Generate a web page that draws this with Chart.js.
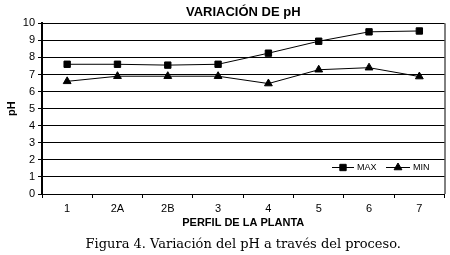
<!DOCTYPE html>
<html><head><meta charset="utf-8">
<script src="https://cdn.jsdelivr.net/npm/chart.js@4/dist/chart.umd.min.js"></script>
<style>html,body{margin:0;padding:0;background:#fff}#wrap{width:450px;height:255px;position:relative}</style>
</head><body><div id="wrap"><canvas id="c" width="450" height="255"></canvas></div>
<script>
const categories = ["1","2A","2B","3","4","5","6","7"];
const maxValues = [7.6, 7.6, 7.55, 7.6, 8.25, 8.95, 9.5, 9.55];
const minValues = [6.6, 6.9, 6.9, 6.9, 6.47, 7.28, 7.4, 6.88];
const seriesNames = ["MAX","MIN"];
const chartTitle = "VARIACIÓN DE pH";
const xTitle = "PERFIL DE LA PLANTA";
const yTitle = "pH";
const caption = "Figura 4. Variación del pH a través del proceso.";

const SANS = "'Liberation Sans', Arial, sans-serif";

const framePlugin = {
  id: 'frame',
  afterDatasetsDraw(chart) {
    const {ctx, chartArea: a} = chart;
    ctx.save();
    ctx.strokeStyle = '#000';
    ctx.lineWidth = 1;
    ctx.beginPath();
    ctx.moveTo(a.right + 0.5, a.top);
    ctx.lineTo(a.right + 0.5, a.bottom);
    ctx.stroke();
    // legend
    const y = 167;
    const items = [
      {x1: 332, x2: 354, name: seriesNames[0], ds: chart.data.datasets[0]},
      {x1: 386, x2: 410, name: seriesNames[1], ds: chart.data.datasets[1]}
    ];
    ctx.font = '9px ' + SANS;
    ctx.textBaseline = 'middle';
    ctx.fillStyle = '#000';
    items.forEach(it => {
      ctx.beginPath();
      ctx.moveTo(it.x1, y + 0.5);
      ctx.lineTo(it.x2, y + 0.5);
      ctx.lineWidth = 1;
      ctx.stroke();
      Chart.helpers.drawPoint(ctx, {pointStyle: it.ds.pointStyle, radius: 4.5, borderWidth: 1}, (it.x1 + it.x2) / 2, y + 0.5);
      ctx.fillStyle = '#000';
      ctx.fillText(it.name, it.x2 + 3, y + 0.5);
    });
    ctx.restore();
  }
};

new Chart(document.getElementById('c'), {
  type: 'line',
  data: {
    labels: categories,
    datasets: [
      {label: seriesNames[0], data: maxValues, borderColor: '#000', backgroundColor: '#000', borderWidth: 1,
       pointStyle: 'rect', pointRadius: 4.5, pointBorderWidth: 1, pointBackgroundColor: '#000', pointBorderColor: '#000', tension: 0},
      {label: seriesNames[1], data: minValues, borderColor: '#000', backgroundColor: '#000', borderWidth: 1,
       pointStyle: 'triangle', pointRadius: 4.5, pointBorderWidth: 1, pointBackgroundColor: '#000', pointBorderColor: '#000', tension: 0}
    ]
  },
  options: {
    responsive: false,
    animation: false,
    layout: {padding: {left: 0, right: 4, top: 0, bottom: 0}},
    plugins: {
      legend: {display: false},
      tooltip: {enabled: false},
      title: {display: true, text: chartTitle, fullSize: false, color: '#000',
              font: {family: SANS, size: 13, weight: 'bold'}, padding: {top: 4.5, bottom: 3.2}},
      subtitle: {display: true, text: caption, position: 'bottom', fullSize: false, color: '#000',
              font: {family: "'DejaVu Serif', serif", size: 13}, padding: {top: 0, bottom: 2.2}}
    },
    scales: {
      x: {
        offset: true,
        grid: {display: true, drawOnChartArea: false, drawTicks: true, tickLength: 4, color: '#000', offset: true},
        border: {color: '#000', width: 1},
        ticks: {color: '#000', font: {family: SANS, size: 11}, padding: 4, maxRotation: 0},
        title: {display: true, text: xTitle, color: '#000', font: {family: SANS, size: 11, weight: 'bold'}, padding: {top: 0, bottom: 7.6}},
        afterFit(s) { s.height = 43.2; }
      },
      y: {
        min: 0, max: 10,
        grid: {color: '#000', lineWidth: 1, tickLength: 4, drawTicks: true},
        border: {color: '#000', width: 2},
        ticks: {stepSize: 1, color: '#000', font: {family: SANS, size: 11}, padding: 3},
        title: {display: true, text: yTitle, color: '#000', font: {family: SANS, size: 11, weight: 'bold'}, padding: {top: 5, bottom: 0}},
        afterFit(s) { s.width = 42; }
      }
    }
  },
  plugins: [framePlugin]
});
</script></body></html>
